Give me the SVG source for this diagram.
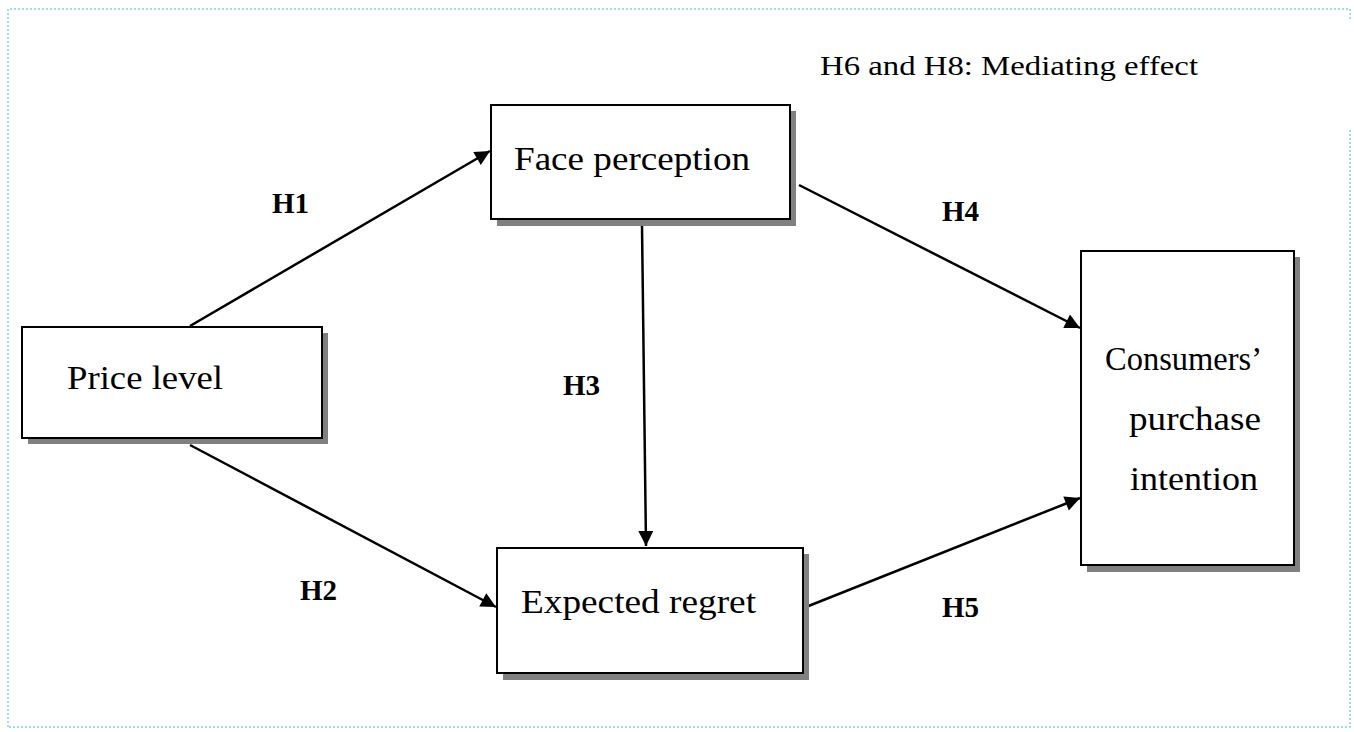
<svg xmlns="http://www.w3.org/2000/svg" width="1354" height="732" viewBox="0 0 1354 732">
<style>
.frame{fill:none;stroke:#7fd2ec;stroke-width:1.5;stroke-dasharray:2 2}
.box{fill:#fff;stroke:#000;stroke-width:2}
.shadow{fill:#808080}
text{font-family:'Liberation Serif',Tinos,'Times New Roman',Times,serif;fill:#000}
.lbl{font-size:34px}
.h{font-size:29px;font-weight:bold}
.note{font-size:28px}
.conn{stroke:#000;stroke-width:2.5;fill:none}
</style>
<defs>
<marker id="arr" viewBox="0 0 10 10" refX="10" refY="5" markerWidth="7" markerHeight="6" markerUnits="strokeWidth" orient="auto">
<path d="M0,0 L10,5 L0,10 z" fill="#000"/>
</marker>
</defs>
<path class="frame" d="M8,727 L8,9 L1350,9 L1350,20 M1350,130 L1350,727 L8,727"/>
<g id="note"><text class="note" x="820" y="75" textLength="378" lengthAdjust="spacingAndGlyphs">H6 and H8: Mediating effect</text></g>
<g id="connectors">
<line class="conn" x1="190" y1="326" x2="490" y2="151" marker-end="url(#arr)"/>
<line class="conn" x1="190" y1="445" x2="496" y2="607" marker-end="url(#arr)"/>
<line class="conn" x1="642" y1="226" x2="646" y2="546" marker-end="url(#arr)"/>
<line class="conn" x1="799" y1="185" x2="1080" y2="328" marker-end="url(#arr)"/>
<line class="conn" x1="806" y1="607" x2="1080" y2="498" marker-end="url(#arr)"/>
</g>
<g id="labels">
<text class="h" x="272" y="213">H1</text>
<text class="h" x="300" y="600">H2</text>
<text class="h" x="563" y="395">H3</text>
<text class="h" x="942" y="221">H4</text>
<text class="h" x="942" y="617">H5</text>
</g>
<g id="face">
<rect class="shadow" x="497" y="111" width="299" height="115"/>
<rect class="box" x="491" y="105" width="299" height="114"/>
<text class="lbl" x="514" y="170" textLength="236" lengthAdjust="spacingAndGlyphs">Face perception</text>
</g>
<g id="price">
<rect class="shadow" x="28" y="333" width="300" height="111"/>
<rect class="box" x="22" y="327" width="300" height="111"/>
<text class="lbl" x="67" y="389" textLength="156" lengthAdjust="spacingAndGlyphs">Price level</text>
</g>
<g id="regret">
<rect class="shadow" x="503" y="554" width="306" height="126"/>
<rect class="box" x="497" y="548" width="306" height="125"/>
<text class="lbl" x="521" y="613" textLength="235" lengthAdjust="spacingAndGlyphs">Expected regret</text>
</g>
<g id="intention">
<rect class="shadow" x="1087" y="257" width="213" height="315"/>
<rect class="box" x="1081" y="251" width="213" height="314"/>
<text class="lbl" x="1105" y="370" textLength="157" lengthAdjust="spacingAndGlyphs">Consumers’</text>
<text class="lbl" x="1129" y="430" textLength="132" lengthAdjust="spacingAndGlyphs">purchase</text>
<text class="lbl" x="1130" y="490" textLength="128" lengthAdjust="spacingAndGlyphs">intention</text>
</g>
</svg>
